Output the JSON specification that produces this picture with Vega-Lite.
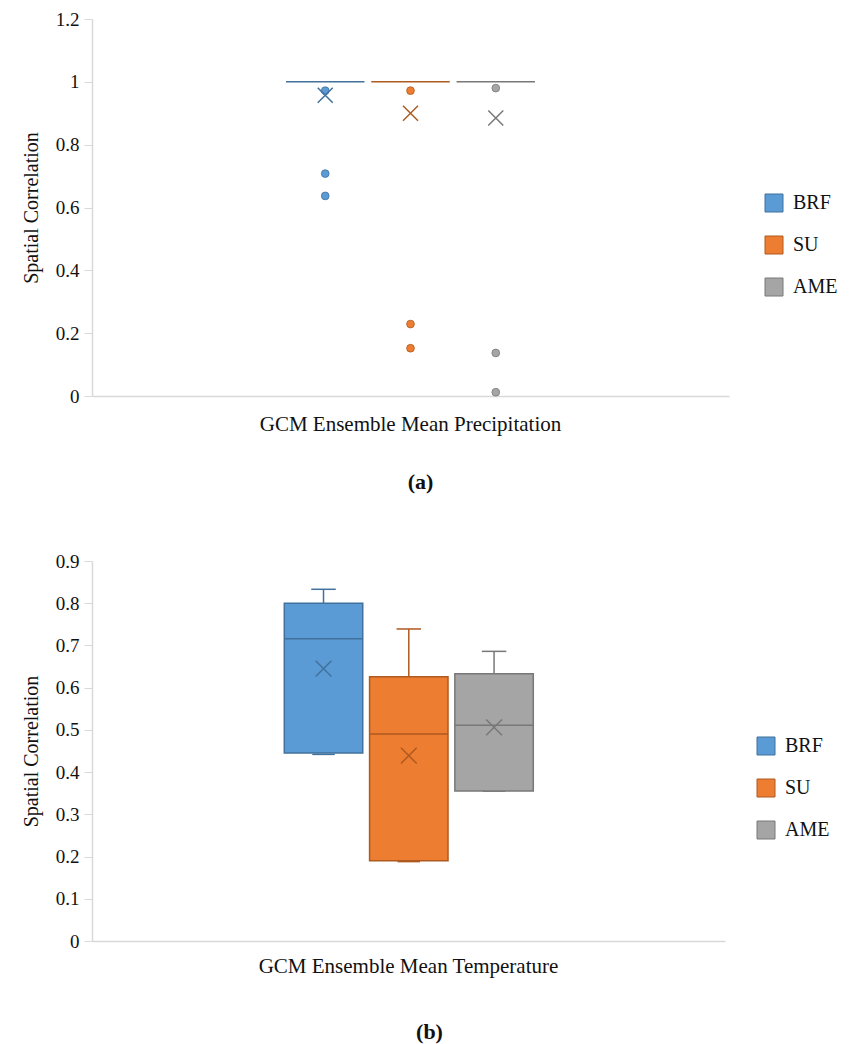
{
  "$schema": "https://vega.github.io/schema/vega-lite/v6.json",
  "padding": {"left": 21, "top": 10, "right": 5, "bottom": 5},
  "background": "white",
  "config": {
    "font": "Liberation Serif, Times New Roman, serif",
    "view": {"stroke": null},
    "axis": {"labelFont": "Liberation Serif, Times New Roman, serif", "titleFont": "Liberation Serif, Times New Roman, serif", "labelColor": "#111", "titleColor": "#111", "domainColor": "#d9d9d9", "tickColor": "#d9d9d9", "grid": false, "domainWidth": 1.5},
    "legend": {"labelFont": "Liberation Serif, Times New Roman, serif", "labelFontSize": 20, "labelColor": "#111", "symbolType": "square", "symbolSize": 324, "symbolStrokeWidth": 1, "symbolOpacity": 1, "labelOffset": 9, "rowPadding": 20},
    "title": {"font": "Liberation Serif, Times New Roman, serif"}
  },
  "datasets": {
    "precipBox": [
      {"cat": "GCM Ensemble Mean Precipitation", "series": "BRF", "q1": 1, "q3": 1, "median": 1, "mean": 0.957},
      {"cat": "GCM Ensemble Mean Precipitation", "series": "SU", "q1": 1, "q3": 1, "median": 1, "mean": 0.90},
      {"cat": "GCM Ensemble Mean Precipitation", "series": "AME", "q1": 1, "q3": 1, "median": 1, "mean": 0.885}
    ],
    "precipPts": [
      {"cat": "GCM Ensemble Mean Precipitation", "series": "BRF", "value": 0.972},
      {"cat": "GCM Ensemble Mean Precipitation", "series": "BRF", "value": 0.708},
      {"cat": "GCM Ensemble Mean Precipitation", "series": "BRF", "value": 0.637},
      {"cat": "GCM Ensemble Mean Precipitation", "series": "SU", "value": 0.972},
      {"cat": "GCM Ensemble Mean Precipitation", "series": "SU", "value": 0.229},
      {"cat": "GCM Ensemble Mean Precipitation", "series": "SU", "value": 0.152},
      {"cat": "GCM Ensemble Mean Precipitation", "series": "AME", "value": 0.98},
      {"cat": "GCM Ensemble Mean Precipitation", "series": "AME", "value": 0.137},
      {"cat": "GCM Ensemble Mean Precipitation", "series": "AME", "value": 0.012}
    ],
    "tempBox": [
      {"cat": "GCM Ensemble Mean Temperature", "series": "BRF", "lo": 0.442, "q1": 0.445, "median": 0.716, "q3": 0.80, "hi": 0.833, "mean": 0.645},
      {"cat": "GCM Ensemble Mean Temperature", "series": "SU", "lo": 0.188, "q1": 0.19, "median": 0.49, "q3": 0.626, "hi": 0.739, "mean": 0.439},
      {"cat": "GCM Ensemble Mean Temperature", "series": "AME", "lo": 0.355, "q1": 0.355, "median": 0.511, "q3": 0.633, "hi": 0.686, "mean": 0.506}
    ]
  },
  "vconcat": [
    {
      "width": 637,
      "height": 377,
      "title": {"text": "(a)", "orient": "bottom", "anchor": "middle", "fontSize": 22, "fontWeight": "bold", "offset": 38, "dx": 10, "color": "#111"},
      "layer": [
        {
          "data": {"name": "precipBox"},
          "mark": {"type": "bar", "strokeWidth": 1.5},
          "encoding": {
            "x": {"field": "cat", "type": "nominal", "scale": {"paddingInner": 0, "paddingOuter": 0.745}, "axis": {"title": null, "labelAngle": 0, "ticks": false, "labelFontSize": 21, "labelPadding": 17, "labelLimit": 1000}},
            "xOffset": {"field": "series", "type": "nominal", "sort": ["BRF", "SU", "AME"], "scale": {"paddingInner": 0.08, "paddingOuter": 0.04}},
            "y": {"field": "q1", "type": "quantitative", "scale": {"domain": [0, 1.2], "nice": false}, "axis": {"title": "Spatial Correlation", "values": [0, 0.2, 0.4, 0.6, 0.8, 1, 1.2], "format": "~g", "labelFontSize": 19, "titleFontSize": 20, "titleFontWeight": "normal", "tickSize": 8, "titlePadding": 14, "labelPadding": 5}},
            "y2": {"field": "q3"},
            "color": {"field": "series", "type": "nominal", "scale": {"domain": ["BRF", "SU", "AME"], "range": ["#5B9BD5", "#ED7D31", "#A5A5A5"]}, "legend": {"title": null, "orient": "none", "legendX": 672, "legendY": 174}},
            "stroke": {"field": "series", "type": "nominal", "scale": {"domain": ["BRF", "SU", "AME"], "range": ["#41719C", "#AE5A21", "#787878"]}, "legend": {"title": null, "orient": "none", "legendX": 672, "legendY": 174}}
          }
        },
        {
          "data": {"name": "precipPts"},
          "mark": {"type": "point", "filled": true, "shape": "circle", "size": 60, "opacity": 1, "strokeWidth": 0.8},
          "encoding": {
            "x": {"field": "cat", "type": "nominal"},
            "xOffset": {"field": "series", "type": "nominal", "sort": ["BRF", "SU", "AME"]},
            "y": {"field": "value", "type": "quantitative"},
            "color": {"field": "series", "type": "nominal", "scale": {"domain": ["BRF", "SU", "AME"], "range": ["#5B9BD5", "#ED7D31", "#A5A5A5"]}},
            "stroke": {"field": "series", "type": "nominal", "scale": {"domain": ["BRF", "SU", "AME"], "range": ["#41719C", "#AE5A21", "#787878"]}}
          }
        },
        {
          "data": {"name": "precipBox"},
          "mark": {"type": "point", "filled": false, "shape": "M-1,-1L1,1M1,-1L-1,1", "size": 225, "strokeWidth": 1.5, "opacity": 1},
          "encoding": {
            "x": {"field": "cat", "type": "nominal"},
            "xOffset": {"field": "series", "type": "nominal", "sort": ["BRF", "SU", "AME"]},
            "y": {"field": "mean", "type": "quantitative"},
            "stroke": {"field": "series", "type": "nominal", "scale": {"domain": ["BRF", "SU", "AME"], "range": ["#41719C", "#AE5A21", "#787878"]}}
          }
        }
      ]
    },
    {
      "width": 633,
      "height": 380,
      "title": {"text": "(b)", "orient": "bottom", "anchor": "middle", "fontSize": 22, "fontWeight": "bold", "offset": 46, "dx": 21, "color": "#111"},
      "layer": [
        {
          "data": {"name": "tempBox"},
          "mark": {"type": "rule", "strokeWidth": 1.5},
          "encoding": {
            "x": {"field": "cat", "type": "nominal", "scale": {"paddingInner": 0, "paddingOuter": 0.74}, "axis": {"title": null, "labelAngle": 0, "ticks": false, "labelFontSize": 21, "labelPadding": 14, "labelLimit": 1000}},
            "xOffset": {"field": "series", "type": "nominal", "sort": ["BRF", "SU", "AME"], "scale": {"paddingInner": 0.08, "paddingOuter": 0.04}},
            "y": {"field": "q3", "type": "quantitative", "scale": {"domain": [0, 0.9], "nice": false}, "axis": {"title": "Spatial Correlation", "values": [0, 0.1, 0.2, 0.3, 0.4, 0.5, 0.6, 0.7, 0.8, 0.9], "format": "~g", "labelFontSize": 19, "titleFontSize": 20, "titleFontWeight": "normal", "tickSize": 8, "titlePadding": 14, "labelPadding": 5}},
            "y2": {"field": "hi"},
            "stroke": {"field": "series", "type": "nominal", "scale": {"domain": ["BRF", "SU", "AME"], "range": ["#41719C", "#AE5A21", "#787878"]}}
          }
        },
        {
          "data": {"name": "tempBox"},
          "mark": {"type": "tick", "size": 23, "thickness": 0.01, "filled": false, "strokeWidth": 1.5, "opacity": 1},
          "encoding": {
            "x": {"field": "cat", "type": "nominal"},
            "xOffset": {"field": "series", "type": "nominal", "sort": ["BRF", "SU", "AME"]},
            "y": {"field": "hi", "type": "quantitative"},
            "stroke": {"field": "series", "type": "nominal", "scale": {"domain": ["BRF", "SU", "AME"], "range": ["#41719C", "#AE5A21", "#787878"]}}
          }
        },
        {
          "data": {"name": "tempBox"},
          "mark": {"type": "tick", "size": 21, "thickness": 0.01, "filled": false, "strokeWidth": 1.5, "opacity": 1},
          "encoding": {
            "x": {"field": "cat", "type": "nominal"},
            "xOffset": {"field": "series", "type": "nominal", "sort": ["BRF", "SU", "AME"]},
            "y": {"field": "lo", "type": "quantitative"},
            "stroke": {"field": "series", "type": "nominal", "scale": {"domain": ["BRF", "SU", "AME"], "range": ["#41719C", "#AE5A21", "#787878"]}}
          }
        },
        {
          "data": {"name": "tempBox"},
          "mark": {"type": "bar", "strokeWidth": 1.5, "opacity": 1},
          "encoding": {
            "x": {"field": "cat", "type": "nominal"},
            "xOffset": {"field": "series", "type": "nominal", "sort": ["BRF", "SU", "AME"]},
            "y": {"field": "q1", "type": "quantitative"},
            "y2": {"field": "q3"},
            "color": {"field": "series", "type": "nominal", "scale": {"domain": ["BRF", "SU", "AME"], "range": ["#5B9BD5", "#ED7D31", "#A5A5A5"]}, "legend": {"title": null, "orient": "none", "legendX": 664, "legendY": 175}},
            "stroke": {"field": "series", "type": "nominal", "scale": {"domain": ["BRF", "SU", "AME"], "range": ["#41719C", "#AE5A21", "#787878"]}, "legend": {"title": null, "orient": "none", "legendX": 664, "legendY": 175}}
          }
        },
        {
          "data": {"name": "tempBox"},
          "mark": {"type": "tick", "size": 77, "thickness": 0.01, "filled": false, "strokeWidth": 1.5, "opacity": 1},
          "encoding": {
            "x": {"field": "cat", "type": "nominal"},
            "xOffset": {"field": "series", "type": "nominal", "sort": ["BRF", "SU", "AME"]},
            "y": {"field": "median", "type": "quantitative"},
            "stroke": {"field": "series", "type": "nominal", "scale": {"domain": ["BRF", "SU", "AME"], "range": ["#41719C", "#AE5A21", "#787878"]}}
          }
        },
        {
          "data": {"name": "tempBox"},
          "mark": {"type": "point", "filled": false, "shape": "M-1,-1L1,1M1,-1L-1,1", "size": 250, "strokeWidth": 1.5, "opacity": 1},
          "encoding": {
            "x": {"field": "cat", "type": "nominal"},
            "xOffset": {"field": "series", "type": "nominal", "sort": ["BRF", "SU", "AME"]},
            "y": {"field": "mean", "type": "quantitative"},
            "stroke": {"field": "series", "type": "nominal", "scale": {"domain": ["BRF", "SU", "AME"], "range": ["#41719C", "#AE5A21", "#787878"]}}
          }
        }
      ]
    }
  ],
  "spacing": 59,
  "resolve": {
    "scale": {"x": "independent", "y": "independent", "color": "independent", "stroke": "independent"},
    "legend": {"color": "independent", "stroke": "independent"}
  }
}
